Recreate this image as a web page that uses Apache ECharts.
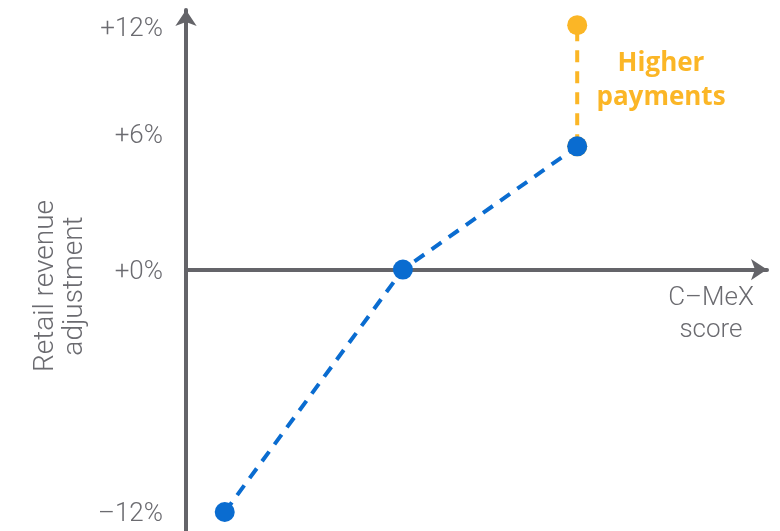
<!DOCTYPE html>
<html>
<head>
<meta charset="utf-8">
<script src="https://cdn.jsdelivr.net/npm/echarts@6/dist/echarts.min.js"></script>
<style>html,body{margin:0;padding:0;background:#fff}#c{width:780px;height:531px}</style>
</head>
<body>
<div id="c"></div>
<script>
var cmexScore = [1, 5.6, 10.1];
var revenueAdj = [-12, 0, 6.1];
var higherX = [10.1, 10.1];
var higherY = [6.1, 12.1];
var yTickValues = [-12, 0, 6, 12];
var yTickLabels = ['–12%', '+0%', '+6%', '+12%'];
var axisTitleY = ['Retail revenue', 'adjustment'];
var axisTitleX = ['C–MeX', 'score'];
var noteText = ['Higher', 'payments'];

var GRAY = '#646469';
var TEXT = '#6b6b70';
var BLUE = '#0a6cd0';
var YELLOW = '#fbb626';
var FONT = 'Roboto, "Open Sans", sans-serif';
var BFONT = '"Open Sans", "Noto Sans", sans-serif';

var chart = echarts.init(document.getElementById('c'));
chart.setOption({
  animation: false,
  grid: { left: 186, right: 13, top: 10, bottom: 0 },
  xAxis: {
    type: 'value', min: 0, max: 15,
    axisLine: { onZero: true, lineStyle: { color: GRAY, width: 4 }, symbol: ['none', 'arrow'], symbolSize: [16, 16] },
    axisTick: { show: false }, axisLabel: { show: false }, splitLine: { show: false }
  },
  yAxis: {
    type: 'value', min: -12.94, max: 12.85,
    axisLine: { onZero: false, lineStyle: { color: GRAY, width: 4 }, symbol: ['none', 'arrow'], symbolSize: [16, 16] },
    axisTick: { show: false }, splitLine: { show: false },
    axisLabel: {
      customValues: yTickValues,
      margin: 23,
      color: TEXT, fontFamily: FONT, fontWeight: 300, fontSize: 26,
      formatter: function (v) {
        var i = yTickValues.indexOf(v);
        var t = yTickLabels[i];
        return v === 6 ? '{up|' + t + '}' : '{n|' + t + '}';
      },
      rich: {
        up: { color: TEXT, fontFamily: FONT, fontWeight: 300, fontSize: 26, padding: [0, 0, 24, 0] },
        n: { color: TEXT, fontFamily: FONT, fontWeight: 300, fontSize: 26, padding: [5, 0, 0, 0] }
      }
    }
  },
  graphic: [
    { type: 'text', x: 60, y: 286, rotation: Math.PI / 2,
      style: { text: axisTitleY.join('\n'), fill: TEXT, font: '300 28px ' + FONT, align: 'center', verticalAlign: 'middle', lineHeight: 29 } },
    { type: 'text', x: 711, y: 314,
      style: { text: axisTitleX.join('\n'), fill: TEXT, font: '300 26px ' + FONT, align: 'center', verticalAlign: 'middle', lineHeight: 32 } },
    { type: 'text', x: 661, y: 81,
      style: { text: noteText.join('\n'), fill: YELLOW, font: '700 26px ' + BFONT, align: 'center', verticalAlign: 'middle', lineHeight: 34 } }
  ],
  series: [
    {
      type: 'line', data: higherX.map(function (x, i) { return [x, higherY[i]]; }),
      symbol: 'circle', symbolSize: 20, itemStyle: { color: YELLOW },
      lineStyle: { color: YELLOW, width: 4, type: [12, 9] }, z: 2
    },
    {
      type: 'line', data: cmexScore.map(function (x, i) { return [x, revenueAdj[i]]; }),
      symbol: 'circle', symbolSize: 20, itemStyle: { color: BLUE },
      lineStyle: { color: BLUE, width: 4, type: [12, 9] }, z: 3
    }
  ]
});
</script>
</body>
</html>
